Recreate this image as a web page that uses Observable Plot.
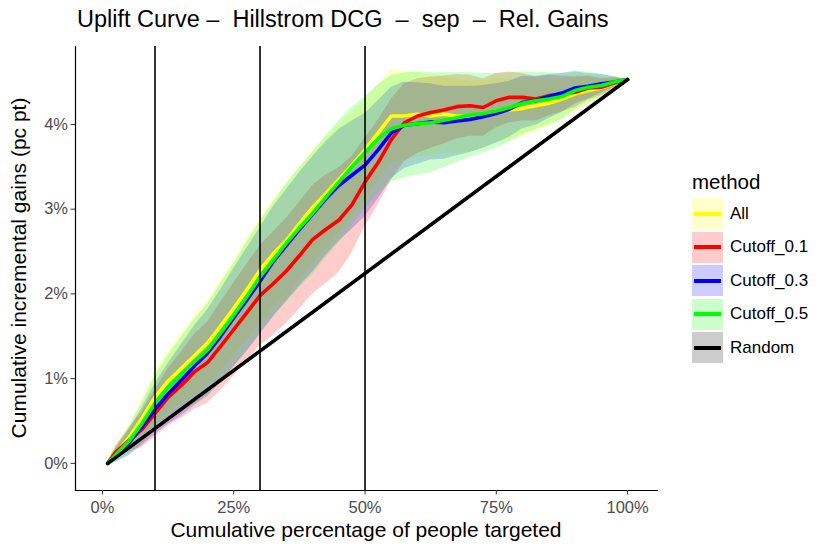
<!DOCTYPE html>
<html><head><meta charset="utf-8">
<script src="https://cdn.jsdelivr.net/npm/d3@7"></script>
<script src="https://cdn.jsdelivr.net/npm/@observablehq/plot@0.6"></script>
<style>
body{margin:0;background:#fff;font-family:"Liberation Sans",Arial,Helvetica,sans-serif;}
#wrap{position:relative;width:830px;height:554px;overflow:hidden;}
#wrap svg{position:absolute;left:0;top:0;}
.title{position:absolute;left:77px;top:6px;font-size:23.5px;line-height:27px;color:#000;white-space:pre;}
.xlab{position:absolute;left:75px;width:582px;top:518px;text-align:center;font-size:21px;line-height:24px;color:#000;}
.ylab{position:absolute;left:19px;top:268px;font-size:21px;line-height:24px;color:#000;white-space:nowrap;transform:translate(-50%,-50%) rotate(-90deg);}
.legend{position:absolute;left:692px;top:170px;}
.legend .lt{font-size:20.5px;line-height:24px;margin-bottom:3px;}
.legend .row{display:flex;align-items:center;height:33.5px;}
.legend .key{position:relative;width:31px;height:31px;}
.legend .key .ln{position:absolute;left:2px;right:2px;top:13.5px;height:4px;}
.legend .lab{font-size:17px;margin-left:7px;}
</style></head><body><div id="wrap"></div>
<script>
const methods = ["All","Cutoff_0.1","Cutoff_0.3","Cutoff_0.5","Random"];
const colors  = ["yellow","red","blue","#00ff00","black"];
const xTicks = [0,0.25,0.5,0.75,1];
const yTicks = [0,1,2,3,4];
const cutoffs = [0.1,0.3,0.5];

const xs = [0.01,0.025,0.05,0.075,0.1,0.125,0.15,0.175,0.2,0.225,0.25,0.275,0.3,0.325,0.35,0.375,0.4,0.425,0.45,0.475,0.5,0.525,0.55,0.575,0.6,0.625,0.65,0.675,0.7,0.725,0.75,0.775,0.8,0.825,0.85,0.875,0.9,0.925,0.95,0.975,1.0];

const allVals = [0.00,0.12,0.30,0.53,0.78,0.97,1.12,1.27,1.42,1.62,1.83,2.05,2.28,2.47,2.63,2.83,3.02,3.18,3.35,3.52,3.70,3.90,4.10,4.10,4.12,4.10,4.12,4.10,4.09,4.12,4.16,4.17,4.19,4.22,4.25,4.30,4.36,4.40,4.43,4.48,4.53];
const cut01Vals = [0.00,0.13,0.27,0.40,0.59,0.78,0.92,1.08,1.19,1.38,1.58,1.78,1.98,2.12,2.27,2.45,2.64,2.76,2.87,3.05,3.32,3.55,3.82,4.02,4.10,4.14,4.17,4.21,4.22,4.20,4.28,4.32,4.32,4.30,4.34,4.36,4.38,4.43,4.44,4.49,4.53];
const cut03Vals = [0.00,0.09,0.24,0.43,0.64,0.82,0.98,1.15,1.30,1.50,1.72,1.93,2.15,2.38,2.57,2.76,2.94,3.12,3.28,3.40,3.52,3.70,3.90,3.99,4.01,4.03,4.02,4.04,4.06,4.09,4.13,4.18,4.26,4.28,4.33,4.37,4.43,4.45,4.48,4.50,4.53];
const cut05Vals = [0.00,0.10,0.26,0.47,0.71,0.90,1.05,1.20,1.34,1.54,1.75,1.97,2.20,2.40,2.60,2.78,2.95,3.14,3.32,3.50,3.67,3.83,3.95,3.99,4.01,4.02,4.05,4.08,4.11,4.13,4.16,4.20,4.25,4.28,4.30,4.33,4.40,4.44,4.46,4.50,4.53];

const allSpread = [0.02,0.08,0.15,0.22,0.30,0.36,0.42,0.47,0.50,0.54,0.57,0.60,0.62,0.64,0.66,0.66,0.67,0.66,0.65,0.62,0.60,0.57,0.55,0.53,0.50,0.48,0.46,0.44,0.42,0.40,0.38,0.36,0.34,0.31,0.28,0.25,0.21,0.17,0.12,0.07,0.00];
const cut01Spread = [0.02,0.07,0.14,0.21,0.28,0.34,0.39,0.44,0.48,0.52,0.55,0.57,0.59,0.61,0.62,0.63,0.64,0.64,0.62,0.57,0.52,0.50,0.48,0.46,0.44,0.42,0.40,0.38,0.36,0.34,0.32,0.30,0.28,0.26,0.24,0.21,0.18,0.14,0.10,0.06,0.00];
const cut03Spread = [0.02,0.08,0.15,0.22,0.30,0.36,0.42,0.47,0.51,0.55,0.58,0.61,0.63,0.65,0.66,0.67,0.68,0.67,0.66,0.64,0.61,0.58,0.54,0.51,0.48,0.45,0.43,0.41,0.39,0.37,0.35,0.33,0.31,0.29,0.26,0.23,0.19,0.15,0.11,0.06,0.00];
const cut05Spread = [0.02,0.09,0.16,0.24,0.32,0.38,0.44,0.50,0.54,0.58,0.61,0.64,0.66,0.68,0.70,0.71,0.72,0.72,0.72,0.70,0.66,0.64,0.63,0.62,0.61,0.59,0.56,0.53,0.50,0.47,0.44,0.41,0.37,0.34,0.31,0.27,0.23,0.18,0.13,0.07,0.00];

const randomX = [0.01,1.0];
const randomVals = [0.00,4.53];

const series = [
  ["All", allVals, allSpread],
  ["Cutoff_0.1", cut01Vals, cut01Spread],
  ["Cutoff_0.3", cut03Vals, cut03Spread],
  ["Cutoff_0.5", cut05Vals, cut05Spread]
];
const bandRows = [], lineRows = [];
for (const [m, v, s] of series) {
  xs.forEach((x, i) => {
    bandRows.push({method:m, x, lo:v[i]-s[i], hi:v[i]+s[i]});
    lineRows.push({method:m, x, y:v[i]});
  });
}
randomX.forEach((x,i)=>lineRows.push({method:"Random", x, y:randomVals[i]}));

const chart = Plot.plot({
  width:830, height:554,
  marginLeft:75, marginRight:173, marginTop:46, marginBottom:64,
  style:{fontFamily:'"Liberation Sans",Arial,sans-serif', fontSize:"16.5px", background:"white"},
  x:{domain:[-0.0514,1.057]},
  y:{domain:[-0.32,4.92]},
  color:{domain:methods, range:colors},
  marks:[
    Plot.areaY(bandRows, {x:"x", y1:"lo", y2:"hi", z:"method", fill:"method", fillOpacity:0.2}),
    Plot.line(lineRows, {x:"x", y:"y", z:"method", stroke:"method", strokeWidth:3.6}),
    Plot.ruleX(cutoffs, {stroke:"black", strokeWidth:1.6}),
    Plot.frame({anchor:"left", stroke:"black", strokeWidth:1.2}),
    Plot.frame({anchor:"bottom", stroke:"black", strokeWidth:1.2}),
    Plot.axisX({ticks:xTicks, tickFormat:d3.format(".0%"), tickSize:4.5, tickPadding:6, label:null, fill:"#4d4d4d", stroke:"#333", fontSize:16.5}),
    Plot.axisY({ticks:yTicks, tickFormat:d=>d+"%", tickSize:4.5, tickPadding:3, label:null, fill:"#4d4d4d", stroke:"#333", fontSize:16.5})
  ]
});
const wrap = document.getElementById("wrap");
wrap.appendChild(chart);

const t = document.createElement("div"); t.className="title";
t.textContent = "Uplift Curve –  Hillstrom DCG  –  sep  –  Rel. Gains";
wrap.appendChild(t);
const xl = document.createElement("div"); xl.className="xlab";
xl.textContent = "Cumulative percentage of people targeted"; wrap.appendChild(xl);
const yl = document.createElement("div"); yl.className="ylab";
yl.textContent = "Cumulative incremental gains (pc pt)"; wrap.appendChild(yl);

const lg = document.createElement("div"); lg.className="legend";
const lt = document.createElement("div"); lt.className="lt"; lt.textContent="method"; lg.appendChild(lt);
methods.forEach((m,i)=>{
  const row = document.createElement("div"); row.className="row";
  const key = document.createElement("div"); key.className="key";
  const c = d3.color(colors[i]); const bg = d3.color(colors[i]); bg.opacity = 0.2;
  key.style.background = bg.formatRgb();
  const ln = document.createElement("div"); ln.className="ln"; ln.style.background = c.formatRgb();
  key.appendChild(ln); row.appendChild(key);
  const lab = document.createElement("span"); lab.className="lab"; lab.textContent=m; row.appendChild(lab);
  lg.appendChild(row);
});
wrap.appendChild(lg);
</script></body></html>
